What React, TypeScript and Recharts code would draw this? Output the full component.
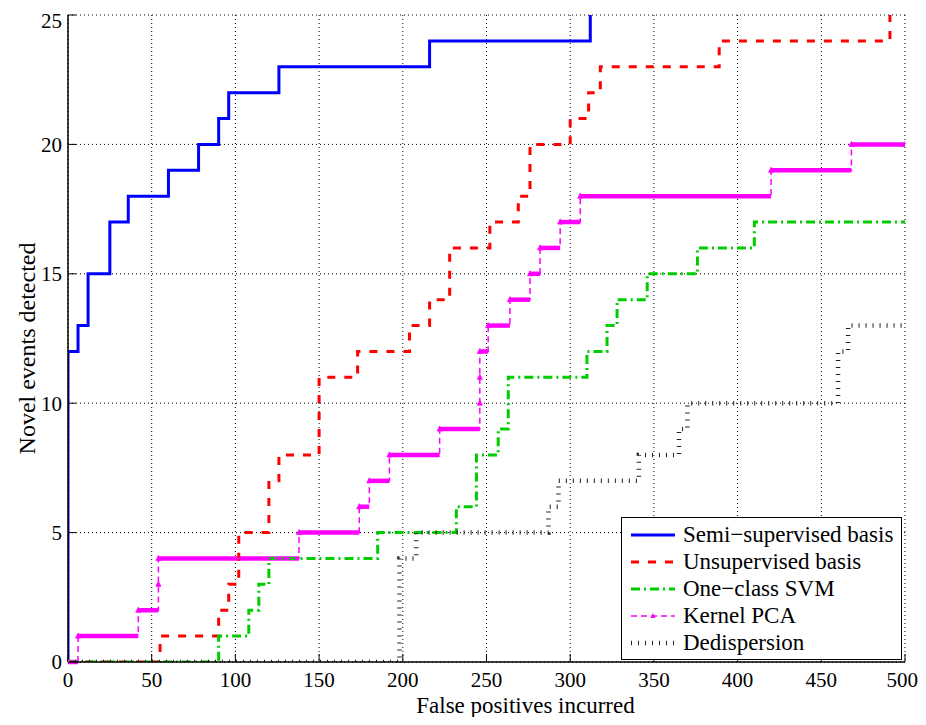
import React from 'react';
import {
  LineChart,
  Line,
  XAxis,
  YAxis,
  CartesianGrid,
  Legend,
  ReferenceLine
} from 'recharts';

const FONT = "'Liberation Serif', 'Times New Roman', Times, Tinos, 'Nimbus Roman', 'DejaVu Serif', serif";

const xTicks = [0, 50, 100, 150, 200, 250, 300, 350, 400, 450, 500];
const yTicks = [0, 5, 10, 15, 20, 25];

// false positives where each curve steps up, and the novel events detected from there on
const semiSupervisedFp = [0, 0, 6, 12, 25, 36, 60, 78, 90, 96, 126, 216, 312];
const semiSupervisedDetected = [0, 12, 13, 15, 17, 18, 19, 20, 21, 22, 23, 24, 26];

const unsupervisedFp = [0, 55, 90, 96, 102, 120, 126, 150, 173, 204, 216, 228, 252, 269, 276, 300, 311, 318, 389, 491];
const unsupervisedDetected = [0, 1, 2, 3, 5, 7, 8, 11, 12, 13, 14, 16, 17, 18, 20, 21, 22, 23, 24, 26];

const oneClassFp = [0, 90, 108, 114, 120, 185, 232, 244, 257, 263, 310, 322, 328, 346, 376, 410, 500];
const oneClassDetected = [0, 1, 2, 3, 4, 5, 6, 8, 9, 11, 12, 13, 14, 15, 16, 17, 17];

const kernelPcaFp = [0, 6, 42, 54, 54, 138, 174, 180, 192, 222, 246, 246, 246, 251, 264, 276, 282, 294, 306, 420, 468, 500];
const kernelPcaDetected = [0, 1, 2, 3, 4, 5, 6, 7, 8, 9, 10, 11, 12, 13, 14, 15, 16, 17, 18, 19, 20, 20];

const dedispersionFp = [0, 198, 208, 287, 293, 341, 365, 370, 460, 466, 500];
const dedispersionDetected = [0, 4, 5, 6, 7, 8, 9, 10, 12, 13, 13];

const toPoints = (xs: number[], ys: number[]) => xs.map((x, i) => ({ x, y: ys[i] }));

const series = [
  { name: 'Semi\u2212supervised basis', data: toPoints(semiSupervisedFp, semiSupervisedDetected), color: '#0000ff', width: 3, dash: undefined },
  { name: 'Unsupervised basis', data: toPoints(unsupervisedFp, unsupervisedDetected), color: '#ff0000', width: 3, dash: '8 9' },
  { name: 'One\u2212class SVM', data: toPoints(oneClassFp, oneClassDetected), color: '#00cc00', width: 3, dash: '9 4 2 4' },
  { name: 'Kernel PCA', data: toPoints(kernelPcaFp, kernelPcaDetected), color: '#ff00ff', width: 1.5, dash: '6 4' },
  { name: 'Dedispersion', data: toPoints(dedispersionFp, dedispersionDetected), color: '#222222', width: 4.5, dash: '1 6' }
];

// the flat parts of the kernel PCA curve are drawn thick (dense markers in the original)
const kernelPcaFlats = kernelPcaFp
  .slice(0, -1)
  .map((x, i) => ({ x1: x, x2: kernelPcaFp[i + 1], y: kernelPcaDetected[i] }))
  .filter(s => s.x2 > s.x1);

const renderArrow = (props: any) => {
  const { cx, cy, index } = props;
  if (cx == null || cy == null) return <g key={`m-${index}`} />;
  return (
    <path
      key={`m-${index}`}
      d={`M${cx - 2.5},${cy + 2} L${cx},${cy - 3} L${cx + 2.5},${cy + 2} Z`}
      fill="#ff00ff"
      stroke="#ff00ff"
      strokeWidth={0.8}
    />
  );
};

const XLabel = (props: any) => {
  const { viewBox } = props;
  return (
    <text
      x={viewBox.x + viewBox.width / 2 + 39}
      y={viewBox.y + viewBox.height}
      textAnchor="middle"
      style={{ fontSize: 23, fontFamily: FONT }}
      fill="#000"
    >
      False positives incurred
    </text>
  );
};

const YLabel = (props: any) => {
  const { viewBox } = props;
  const x = viewBox.x + 27;
  const y = viewBox.y + viewBox.height / 2 + 10;
  return (
    <text
      x={x}
      y={y}
      transform={`rotate(-90, ${x}, ${y})`}
      textAnchor="middle"
      style={{ fontSize: 24, fontFamily: FONT }}
      fill="#000"
    >
      Novel events detected
    </text>
  );
};

const LegendBox = () => (
  <div
    style={{
      border: '1.5px solid #000',
      background: '#fff',
      padding: '3px 6px 3px 8px',
      fontFamily: FONT,
      fontSize: 23,
      color: '#000',
      lineHeight: '27px'
    }}
  >
    {series.map(s => (
      <div key={s.name} style={{ display: 'flex', alignItems: 'center', height: 27, whiteSpace: 'nowrap' }}>
        <svg width={48} height={14} style={{ flex: 'none' }}>
          <line
            x1={1}
            x2={45}
            y1={7}
            y2={7}
            stroke={s.color}
            strokeWidth={s.width}
            strokeDasharray={s.dash}
          />
          {s.name === 'Kernel PCA' && (
            <path d="M20.5,9 L23,4 L25.5,9 Z" fill="#ff00ff" />
          )}
        </svg>
        <span style={{ marginLeft: 5 }}>{s.name}</span>
      </div>
    ))}
  </div>
);

const App: React.FC = () => {
  const tickStyle = { fontSize: 21, fill: '#000', style: { fontFamily: FONT } };
  return (
    <div style={{ width: 910, height: 709, position: 'relative', background: '#fff', fontFamily: FONT }}>
      <LineChart width={910} height={709} margin={{ top: 7, right: 13, bottom: 4, left: 0 }} style={{ fontFamily: FONT }}>
        <CartesianGrid stroke="#000" strokeDasharray="1 3" strokeWidth={1} />
        <XAxis
          type="number"
          dataKey="x"
          domain={[0, 500]}
          ticks={xTicks}
          allowDataOverflow
          height={51}
          tickSize={-8}
          tickMargin={18}
          tick={tickStyle}
          stroke="#000"
          axisLine={{ stroke: '#000', strokeWidth: 1.5 }}
          label={XLabel}
        />
        <XAxis
          xAxisId="top"
          orientation="top"
          type="number"
          domain={[0, 500]}
          ticks={xTicks}
          height={0}
          tickSize={-8}
          tick={false}
          stroke="#000"
          axisLine={{ stroke: '#000', strokeWidth: 1.5 }}
        />
        <YAxis
          type="number"
          domain={[0, 25]}
          ticks={yTicks}
          allowDataOverflow
          width={60}
          tickSize={-8}
          tickMargin={14}
          tick={tickStyle}
          stroke="#000"
          axisLine={{ stroke: '#000', strokeWidth: 1.5 }}
          label={YLabel}
        />
        <YAxis
          yAxisId="right"
          orientation="right"
          type="number"
          domain={[0, 25]}
          ticks={yTicks}
          width={0}
          tickSize={-8}
          tick={false}
          stroke="#000"
          axisLine={{ stroke: '#000', strokeWidth: 1.5 }}
        />
        {kernelPcaFlats.map((s, i) => (
          <ReferenceLine
            key={`flat-${i}`}
            segment={[{ x: s.x1, y: s.y }, { x: s.x2, y: s.y }]}
            stroke="#ff00ff"
            strokeWidth={4.5}
            ifOverflow="visible"
          />
        ))}
        {series.map(s => (
          <Line
            key={s.name}
            name={s.name}
            data={s.data}
            dataKey="y"
            type="stepAfter"
            stroke={s.color}
            strokeWidth={s.width}
            strokeDasharray={s.dash}
            dot={s.name === 'Kernel PCA' ? renderArrow : false}
            activeDot={false}
            isAnimationActive={false}
          />
        ))}
        <Legend
          layout="horizontal"
          verticalAlign="middle"
          align="center"
          wrapperStyle={{ left: 613, top: 509, width: 281 }}
          content={LegendBox}
        />
      </LineChart>
    </div>
  );
};

export default App;
